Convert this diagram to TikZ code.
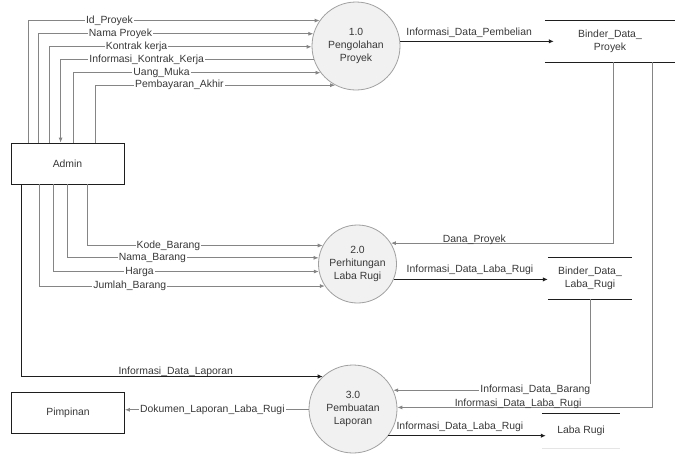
\documentclass[tikz,border=0pt]{standalone}
\usepackage{fontspec}
\setmainfont{Liberation Sans}
\usetikzlibrary{arrows.meta,calc}
\definecolor{txt}{HTML}{383838}
\definecolor{lin}{HTML}{858585}
\definecolor{dlin}{HTML}{1E1E1E}
\definecolor{cfill}{HTML}{F1F1F1}
\definecolor{cdraw}{HTML}{A0A0A0}
\begin{document}
\begin{tikzpicture}[x=1pt,y=-1pt,
  every node/.style={font=\fontsize{10.4}{13}\selectfont, text=txt},
  proc/.style={circle, draw=cdraw, fill=cfill, minimum size=#1, inner sep=0pt, align=center, line width=0.8pt},
  ent/.style={draw=dlin, line width=0.8pt, minimum width=113pt, minimum height=41pt, inner sep=0pt},
  storebox/.style={minimum height=41pt, inner sep=0pt, align=center},
  storeline/.style={draw=dlin, line width=0.8pt},
  flow/.style={draw=lin, line width=0.8pt, -{Latex[length=5pt,width=4pt]}},
  dflow/.style={draw=dlin, line width=1pt, -{Latex[length=5pt,width=4.5pt]}},
  onlbl/.style={fill=white, inner sep=1pt},
  uplbl/.style={above, inner sep=0pt, yshift=#1},
]
\useasboundingbox (0,0) rectangle (675,453);

% processes
\node[proc=88pt] (p1) at (356,46) {1.0\\Pengolahan\\Proyek};
\node[proc=78pt] (p2) at (357.5,264) {2.0\\Perhitungan\\Laba Rugi};
\node[proc=88pt] (p3) at (353,409) {3.0\\Pembuatan\\Laporan};

% entities
\node[ent] (admin) at (67.5,163.5) {Admin};
\node[ent] (pim) at (68,412.5) {Pimpinan};

% stores
\node[storebox, minimum width=130pt] (bdp) at (610,41.5) {Binder\_Data\_\\Proyek};
\node[storebox, minimum width=84pt] (bdlr) at (590,278.5) {Binder\_Data\_\\Laba\_Rugi};
\node[storebox, minimum width=78pt, minimum height=34pt] (lr) at (581,431) {\raisebox{-3pt}{Laba Rugi}};
\draw[storeline] (bdp.north west) -- (bdp.north east) (bdp.south west) -- (bdp.south east);
\draw[storeline] (bdlr.north west) -- (bdlr.north east) (bdlr.south west) -- (bdlr.south east);
\draw[storeline] (lr.north west) -- (lr.north east);
\draw[draw=black!10, line width=0.8pt] (lr.south west) -- (lr.south east);

% Admin -> 1.0
\draw[flow] ([xshift=18]admin.north west) |- (p1.145.4) node[onlbl,pos=0.639]{Id\_Proyek};
\draw[flow] ([xshift=28]admin.north west) |- (p1.164.2) node[onlbl,pos=0.649]{Nama Proyek};
\draw[flow] ([xshift=39]admin.north west) |- (p1.181.3) node[onlbl,pos=0.666]{Kontrak kerja};
\draw[flow] (p1.198.5) -| ([xshift=50]admin.north west) node[onlbl,pos=0.330]{Informasi\_Kontrak\_Kerja};
\draw[flow] ([xshift=63]admin.north west) |- (p1.217.8) node[onlbl,pos=0.678]{Uang\_Muka};
\draw[flow] ([xshift=85]admin.north west) |- (p1.242.4) node[onlbl,pos=0.675]{Pembayaran\_Akhir};

% Admin -> 2.0
\draw[flow] ([xshift=77]admin.south west) |- (p2.152.5) node[onlbl,pos=0.672]{Kode\_Barang};
\draw[flow] ([xshift=57]admin.south west) |- (p2.171.2) node[onlbl,pos=0.669]{Nama\_Barang};
\draw[flow] ([xshift=43]admin.south west) |- (p2.191.8) node[onlbl,pos=0.662]{Harga};
\draw[flow] ([xshift=29]admin.south west) |- (p2.214.3) node[onlbl,pos=0.658]{Jumlah\_Barang};

% Admin -> 3.0
\draw[dflow] ([xshift=11]admin.south west) |- (p3.133.3) node[uplbl=-1,pos=0.756]{Informasi\_Data\_Laporan};

% 3.0 -> Pimpinan
\draw[flow] (p3.181.3) -- (p3.181.3 -| pim.east) node[onlbl,pos=0.524]{Dokumen\_Laporan\_Laba\_Rugi};

% 1.0 -> Binder_Data_Proyek
\draw[dflow] (p1.6.5) -- ($(p1.6.5 -| bdp.west)+(9,0)$) node[uplbl=3,pos=0.449]{Informasi\_Data\_Pembelian};

% Binder_Data_Proyek -> 2.0, 3.0
\draw[flow] ([xshift=3]bdp.south) |- (p2.32.6) node[uplbl=-2,pos=0.812]{Dana\_Proyek};
\draw[flow] ([xshift=42]bdp.south) |- (p3.2.6) node[uplbl=-2,pos=0.763]{Informasi\_Data\_Laba\_Rugi};

% 2.0 -> Binder_Data_Laba_Rugi
\draw[dflow] (p2.337.4) -- (p2.337.4 -| bdlr.west) node[uplbl=4,pos=0.495]{Informasi\_Data\_Laba\_Rugi};

% Binder_Data_Laba_Rugi -> 3.0
\draw[flow] (bdlr.south) |- (p3.25.6) node[onlbl,pos=0.639]{Informasi\_Data\_Barang};

% 3.0 -> Laba Rugi
\draw[dflow] (p3.323.8) -- ($(p3.323.8 -| lr.west)+(4,0)$) node[uplbl=4,pos=0.454]{Informasi\_Data\_Laba\_Rugi};
\end{tikzpicture}
\end{document}
